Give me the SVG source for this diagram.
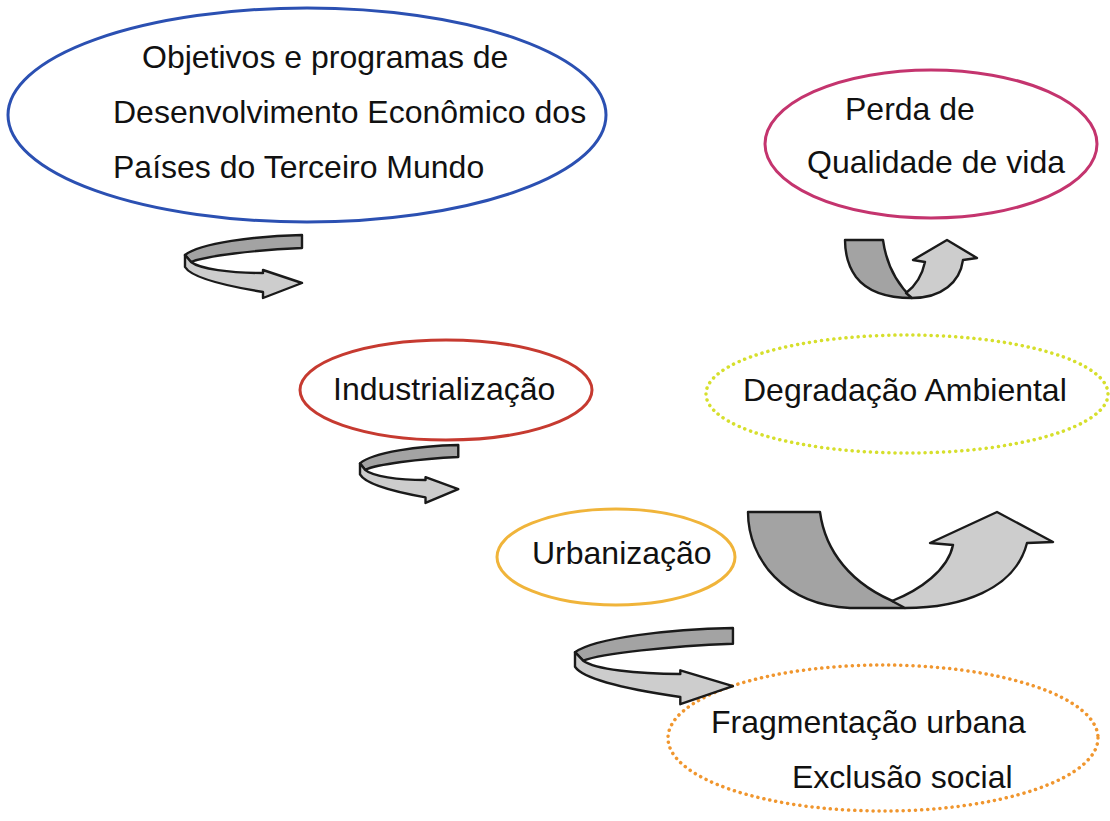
<svg xmlns="http://www.w3.org/2000/svg" width="1110" height="821" viewBox="0 0 1110 821">
<defs>
<style>
text{font-family:"Liberation Sans",Arial,sans-serif;font-size:32px;fill:#111}
.sol{fill:#fff;stroke-width:3}
.dot{fill:#fff;stroke-width:3.5;stroke-dasharray:0.1 6;stroke-linecap:round}
.dark{fill:#a3a3a3;stroke:#1a1a1a;stroke-width:2.4;stroke-linejoin:round;vector-effect:non-scaling-stroke}
.light{fill:#cdcdcd;stroke:#1a1a1a;stroke-width:2.4;stroke-linejoin:round;vector-effect:non-scaling-stroke}
</style>
<g id="curl">
<path class="dark" d="M117,0 C70,1 15,8 0,20 L6,27 C20,21 70,15 117,13 Z"/>
<path class="light" d="M0,20 L0,32 C6,42 35,50 78,57 L78,63 L117,48 L78,35 L78,38 C45,38 15,34 6,27 Z"/>
</g>
</defs>
<rect width="1110" height="821" fill="#fff"/>
<g id="node-objetivos">
<ellipse class="sol" cx="307" cy="115" rx="299" ry="107" stroke="#2b50b2"/>
<text x="142" y="68">Objetivos e programas de</text>
<text x="113" y="123">Desenvolvimento Econômico dos</text>
<text x="113" y="178">Países do Terceiro Mundo</text>
</g>
<g id="node-perda">
<ellipse class="sol" cx="931" cy="144" rx="166" ry="74" stroke="#c4346e"/>
<text x="845" y="120">Perda de</text>
<text x="807" y="173">Qualidade de vida</text>
</g>
<g id="node-industrializacao">
<ellipse class="sol" cx="446" cy="390" rx="146" ry="50" stroke="#c63a30"/>
<text x="333" y="400">Industrialização</text>
</g>
<g id="node-degradacao">
<ellipse class="dot" cx="907" cy="394" rx="201" ry="59" stroke="#d6df2c"/>
<text x="743" y="401">Degradação Ambiental</text>
</g>
<g id="node-urbanizacao">
<ellipse class="sol" cx="616" cy="557" rx="119" ry="48" stroke="#f0b43a"/>
<text x="532" y="564">Urbanização</text>
</g>
<g id="node-fragmentacao">
<ellipse class="dot" cx="883" cy="738" rx="215" ry="73" stroke="#f0962e"/>
<text x="711" y="733">Fragmentação urbana</text>
<text x="792" y="788">Exclusão social</text>
</g>
<g id="connectors">
<use href="#curl" transform="translate(185,235)"/>
<use href="#curl" transform="translate(360,445) scale(0.84,0.92)"/>
<use href="#curl" transform="translate(575,628) scale(1.35,1.21)"/>
<g id="uarrow-small">
<path class="dark" d="M845,240 L883,240 C886,262 895,282 912,298 C885,298 866,290 856,277 C848,266 845,254 845,240 Z"/>
<path class="light" d="M906,293 C914,287 922,276 925,262 L913,260 L947,240 L977,258 L963,260 C960,282 942,298 912,298 Z"/>
</g>
<g id="uarrow-big">
<path class="dark" d="M748,512 L820,512 C825,550 850,585 900,604 L905,608 L850,608 C785,605 748,560 748,512 Z"/>
<path class="light" d="M892,601 C920,590 948,570 953,545 L930,543 L997,512 L1053,542 L1027,543 C1015,590 960,608 905,608 Z"/>
</g>
</g>
</svg>
